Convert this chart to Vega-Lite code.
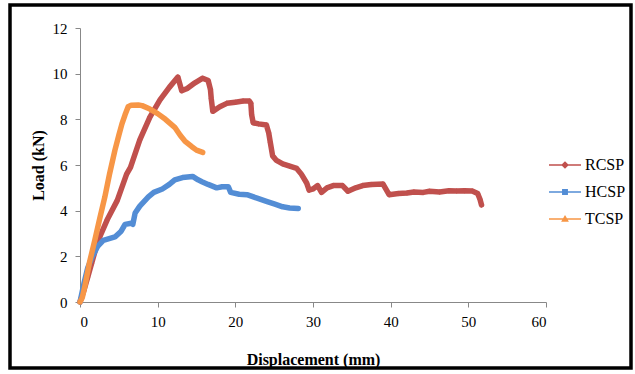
{
  "$schema": "https://vega.github.io/schema/vega-lite/v6.json",
  "width": 621,
  "height": 363,
  "autosize": {"type": "none"},
  "padding": {"left": 10, "top": 5, "right": 4, "bottom": 6},
  "background": "white",
  "config": {
    "view": {"stroke": "black", "strokeWidth": 3.5},
    "font": "Liberation Serif",
    "axis": {"grid": false, "domainColor": "#888888", "tickColor": "#888888", "tickSize": 5, "labelFont": "Liberation Serif", "labelColor": "black", "labelFontSize": 15, "titleFont": "Liberation Serif", "titleFontSize": 16, "titleFontWeight": "bold", "titleColor": "black"},
    "legend": {"padding": 0, "symbolSize": 400, "symbolStrokeWidth": 1.5, "labelOffset": 9, "rowPadding": 8, "labelFont": "Liberation Serif", "labelFontSize": 16, "labelColor": "black"}
  },
  "data": {"values": [
    {"s": "RCSP", "d": 0, "l": 0}, {"s": "RCSP", "d": 0.5, "l": 0.5}, {"s": "RCSP", "d": 1, "l": 1.1}, {"s": "RCSP", "d": 1.5, "l": 1.7}, {"s": "RCSP", "d": 2, "l": 2.3}, {"s": "RCSP", "d": 2.6, "l": 2.9}, {"s": "RCSP", "d": 3.5, "l": 3.6}, {"s": "RCSP", "d": 4.8, "l": 4.45}, {"s": "RCSP", "d": 6, "l": 5.6}, {"s": "RCSP", "d": 6.5, "l": 5.9}, {"s": "RCSP", "d": 7.7, "l": 7.1}, {"s": "RCSP", "d": 9, "l": 8.1}, {"s": "RCSP", "d": 10.3, "l": 8.85}, {"s": "RCSP", "d": 11.5, "l": 9.4}, {"s": "RCSP", "d": 12.6, "l": 9.85}, {"s": "RCSP", "d": 13.1, "l": 9.25}, {"s": "RCSP", "d": 13.8, "l": 9.35}, {"s": "RCSP", "d": 14.8, "l": 9.6}, {"s": "RCSP", "d": 15.8, "l": 9.8}, {"s": "RCSP", "d": 16.5, "l": 9.7}, {"s": "RCSP", "d": 16.8, "l": 9.3}, {"s": "RCSP", "d": 16.9, "l": 8.9}, {"s": "RCSP", "d": 17.1, "l": 8.35}, {"s": "RCSP", "d": 18, "l": 8.55}, {"s": "RCSP", "d": 18.9, "l": 8.7}, {"s": "RCSP", "d": 20, "l": 8.75}, {"s": "RCSP", "d": 21, "l": 8.8}, {"s": "RCSP", "d": 21.8, "l": 8.8}, {"s": "RCSP", "d": 22, "l": 8.7}, {"s": "RCSP", "d": 22.1, "l": 8.2}, {"s": "RCSP", "d": 22.3, "l": 7.85}, {"s": "RCSP", "d": 23, "l": 7.8}, {"s": "RCSP", "d": 24, "l": 7.75}, {"s": "RCSP", "d": 24.3, "l": 7.4}, {"s": "RCSP", "d": 24.5, "l": 7.0}, {"s": "RCSP", "d": 24.8, "l": 6.4}, {"s": "RCSP", "d": 25.3, "l": 6.2}, {"s": "RCSP", "d": 26.1, "l": 6.05}, {"s": "RCSP", "d": 27, "l": 5.95}, {"s": "RCSP", "d": 27.9, "l": 5.85}, {"s": "RCSP", "d": 28.5, "l": 5.6}, {"s": "RCSP", "d": 29.2, "l": 5.2}, {"s": "RCSP", "d": 29.5, "l": 4.9}, {"s": "RCSP", "d": 30, "l": 4.95}, {"s": "RCSP", "d": 30.6, "l": 5.1}, {"s": "RCSP", "d": 31.1, "l": 4.8}, {"s": "RCSP", "d": 31.8, "l": 5.0}, {"s": "RCSP", "d": 32.6, "l": 5.1}, {"s": "RCSP", "d": 33.8, "l": 5.1}, {"s": "RCSP", "d": 34.5, "l": 4.85}, {"s": "RCSP", "d": 35.5, "l": 5.0}, {"s": "RCSP", "d": 36.4, "l": 5.1}, {"s": "RCSP", "d": 37.5, "l": 5.15}, {"s": "RCSP", "d": 39, "l": 5.17}, {"s": "RCSP", "d": 39.8, "l": 4.7}, {"s": "RCSP", "d": 41, "l": 4.75}, {"s": "RCSP", "d": 42.1, "l": 4.77}, {"s": "RCSP", "d": 43, "l": 4.82}, {"s": "RCSP", "d": 44.2, "l": 4.8}, {"s": "RCSP", "d": 45, "l": 4.85}, {"s": "RCSP", "d": 46.3, "l": 4.82}, {"s": "RCSP", "d": 47.5, "l": 4.87}, {"s": "RCSP", "d": 48.5, "l": 4.86}, {"s": "RCSP", "d": 49.5, "l": 4.87}, {"s": "RCSP", "d": 50.5, "l": 4.86}, {"s": "RCSP", "d": 51.2, "l": 4.75}, {"s": "RCSP", "d": 51.5, "l": 4.5}, {"s": "RCSP", "d": 51.7, "l": 4.25},
    {"s": "HCSP", "d": 0, "l": 0}, {"s": "HCSP", "d": 0.5, "l": 0.8}, {"s": "HCSP", "d": 1, "l": 1.5}, {"s": "HCSP", "d": 1.6, "l": 2.0}, {"s": "HCSP", "d": 2.3, "l": 2.45}, {"s": "HCSP", "d": 3, "l": 2.7}, {"s": "HCSP", "d": 4.5, "l": 2.85}, {"s": "HCSP", "d": 5.3, "l": 3.1}, {"s": "HCSP", "d": 5.8, "l": 3.4}, {"s": "HCSP", "d": 6.6, "l": 3.45}, {"s": "HCSP", "d": 6.8, "l": 3.4}, {"s": "HCSP", "d": 7.1, "l": 3.9}, {"s": "HCSP", "d": 7.7, "l": 4.2}, {"s": "HCSP", "d": 8.8, "l": 4.6}, {"s": "HCSP", "d": 9.5, "l": 4.8}, {"s": "HCSP", "d": 10.6, "l": 4.95}, {"s": "HCSP", "d": 11.5, "l": 5.15}, {"s": "HCSP", "d": 12.2, "l": 5.35}, {"s": "HCSP", "d": 13.2, "l": 5.45}, {"s": "HCSP", "d": 14.5, "l": 5.5}, {"s": "HCSP", "d": 15.2, "l": 5.35}, {"s": "HCSP", "d": 15.7, "l": 5.27}, {"s": "HCSP", "d": 16.5, "l": 5.15}, {"s": "HCSP", "d": 17.6, "l": 5.0}, {"s": "HCSP", "d": 18.3, "l": 5.05}, {"s": "HCSP", "d": 19.1, "l": 5.05}, {"s": "HCSP", "d": 19.4, "l": 4.8}, {"s": "HCSP", "d": 20.5, "l": 4.72}, {"s": "HCSP", "d": 21.5, "l": 4.7}, {"s": "HCSP", "d": 22.8, "l": 4.55}, {"s": "HCSP", "d": 24.1, "l": 4.4}, {"s": "HCSP", "d": 25, "l": 4.3}, {"s": "HCSP", "d": 26.1, "l": 4.17}, {"s": "HCSP", "d": 27, "l": 4.12}, {"s": "HCSP", "d": 28.1, "l": 4.1},
    {"s": "TCSP", "d": 0, "l": 0}, {"s": "TCSP", "d": 0.3, "l": 0.2}, {"s": "TCSP", "d": 0.6, "l": 0.65}, {"s": "TCSP", "d": 1.2, "l": 1.7}, {"s": "TCSP", "d": 1.9, "l": 2.7}, {"s": "TCSP", "d": 2.5, "l": 3.6}, {"s": "TCSP", "d": 3.2, "l": 4.6}, {"s": "TCSP", "d": 3.8, "l": 5.6}, {"s": "TCSP", "d": 4.5, "l": 6.65}, {"s": "TCSP", "d": 5.0, "l": 7.3}, {"s": "TCSP", "d": 5.4, "l": 7.8}, {"s": "TCSP", "d": 5.8, "l": 8.2}, {"s": "TCSP", "d": 6.2, "l": 8.55}, {"s": "TCSP", "d": 6.6, "l": 8.62}, {"s": "TCSP", "d": 7.5, "l": 8.63}, {"s": "TCSP", "d": 8.0, "l": 8.6}, {"s": "TCSP", "d": 9.0, "l": 8.45}, {"s": "TCSP", "d": 10.0, "l": 8.25}, {"s": "TCSP", "d": 11.0, "l": 8.0}, {"s": "TCSP", "d": 12.2, "l": 7.65}, {"s": "TCSP", "d": 12.9, "l": 7.3}, {"s": "TCSP", "d": 13.5, "l": 7.05}, {"s": "TCSP", "d": 14.4, "l": 6.8}, {"s": "TCSP", "d": 15, "l": 6.65}, {"s": "TCSP", "d": 15.8, "l": 6.55}
  ]},
  "encoding": {
    "x": {"field": "d", "type": "quantitative", "scale": {"domain": [0, 60], "range": [70, 536], "nice": false},
      "axis": {"values": [0, 10, 20, 30, 40, 50, 60], "offset": -66, "labelPadding": 7, "title": "Displacement (mm)", "titleX": 303, "titleY": 57, "titleBaseline": "middle", "titleAlign": "center"}},
    "y": {"field": "l", "type": "quantitative", "scale": {"domain": [0, 12], "range": [297, 23], "nice": false},
      "axis": {"values": [0, 2, 4, 6, 8, 10, 12], "offset": -70, "labelPadding": 8, "title": "Load (kN)", "titleX": -42, "titleY": 160, "titleAngle": -90, "titleBaseline": "middle", "titleAlign": "center"}}
  },
  "layer": [
    {"transform": [{"filter": "datum.s === 'RCSP'"}],
     "mark": {"type": "point", "shape": "diamond", "filled": true, "size": 30, "color": "#C0504D", "opacity": 1}},
    {"mark": {"type": "line", "strokeWidth": 5.5, "strokeJoin": "round", "strokeCap": "round"},
     "encoding": {"color": {"field": "s", "type": "nominal", "scale": {"domain": ["RCSP", "HCSP", "TCSP"], "range": ["#C0504D", "#538DD5", "#F79646"]},
        "legend": {"title": null, "orient": "none", "legendX": 544, "legendY": 149, "symbolStrokeWidth": 1.5, "symbolOpacity": 1}},
       "order": {"field": "d", "type": "quantitative"}}},
    {"mark": {"type": "point", "filled": true, "opacity": 0},
     "encoding": {
       "color": {"field": "s", "type": "nominal", "scale": {"domain": ["RCSP", "HCSP", "TCSP"], "range": ["#C0504D", "#538DD5", "#F79646"]},
        "legend": {"title": null, "orient": "none", "legendX": 544, "legendY": 149, "symbolStrokeWidth": 1.5, "symbolOpacity": 1}},
       "stroke": {"field": "s", "type": "nominal", "scale": {"domain": ["RCSP", "HCSP", "TCSP"], "range": ["#C0504D", "#538DD5", "#F79646"]},
        "legend": {"title": null, "orient": "none", "legendX": 544, "legendY": 149, "symbolStrokeWidth": 1.5, "symbolOpacity": 1}},
       "shape": {"field": "s", "type": "nominal", "scale": {"domain": ["RCSP", "HCSP", "TCSP"], "range": ["M-1.6,0H1.6M0,-0.28L0.28,0L0,0.28L-0.28,0Z", "M-1.6,0H1.6M-0.22,-0.22H0.22V0.22H-0.22Z", "M-1.6,0H1.6M0,-0.26L0.26,0.2H-0.26Z"]},
        "legend": {"title": null, "orient": "none", "legendX": 544, "legendY": 149, "symbolStrokeWidth": 1.5, "symbolOpacity": 1}}
     }}
  ]
}
